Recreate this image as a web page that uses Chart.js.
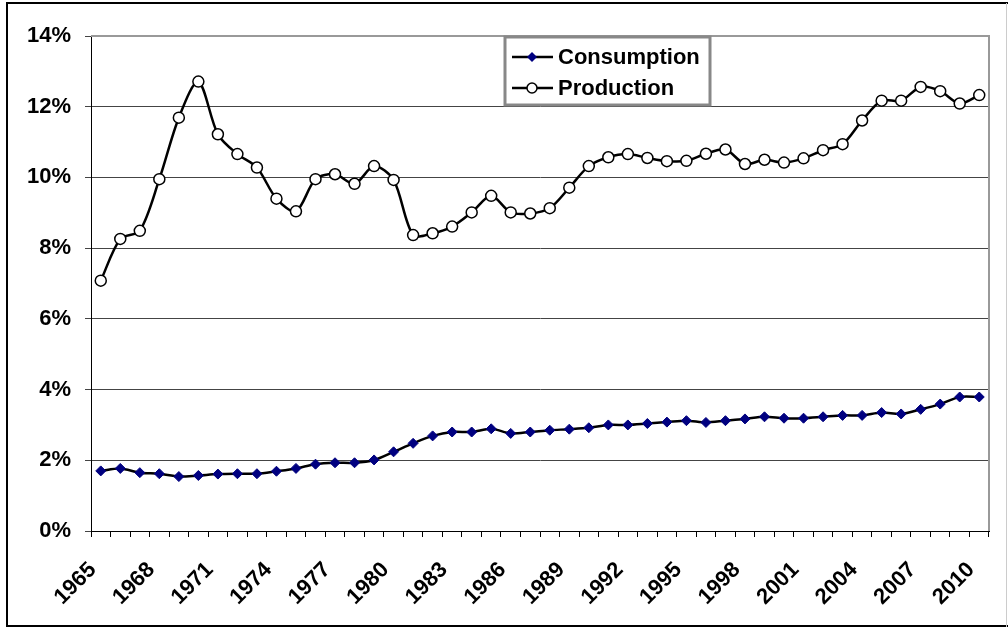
<!DOCTYPE html>
<html>
<head>
<meta charset="utf-8">
<script src="https://cdn.jsdelivr.net/npm/chart.js@4/dist/chart.umd.min.js"></script>
<style>
  html, body { margin: 0; padding: 0; background: #fff; }
  #wrap { position: relative; width: 1008px; height: 628px; }
</style>
</head>
<body>
<div id="wrap"><canvas id="shareChart" width="1008" height="628"></canvas></div>
<script>
// --- DATA ---
const years = [];
for (let y = 1965; y <= 2010; y++) years.push(String(y));

const consumption = [
    1.70, 1.77, 1.65, 1.62, 1.54, 1.57, 1.61, 1.62, 1.62, 1.69,
    1.77, 1.89, 1.93, 1.93, 2.01, 2.24, 2.48, 2.69, 2.80, 2.80,
    2.89, 2.76, 2.80, 2.85, 2.88, 2.92, 3.00, 3.00, 3.04, 3.08,
    3.12, 3.07, 3.12, 3.17, 3.23, 3.19, 3.19, 3.23, 3.27, 3.27,
    3.35, 3.31, 3.44, 3.59, 3.79, 3.79
];

const production = [
    7.08, 8.26, 8.49, 9.95, 11.69, 12.71, 11.22, 10.66, 10.28, 9.40,
    9.04, 9.95, 10.09, 9.82, 10.32, 9.93, 8.37, 8.42, 8.61, 9.01,
    9.48, 9.01, 8.98, 9.13, 9.71, 10.32, 10.57, 10.66, 10.55, 10.46,
    10.47, 10.67, 10.79, 10.38, 10.50, 10.42, 10.54, 10.77, 10.94, 11.61,
    12.17, 12.17, 12.56, 12.44, 12.09, 12.33
];

const seriesNames = ['Consumption', 'Production'];

// --- STYLE ---
const FONT = "'Liberation Sans', Arial, sans-serif";
const NAVY = '#000080';
const GRID = '#444';

// frame, plot border and legend drawn straight on the canvas
const framePlugin = {
    id: 'frame',
    afterDraw(chart) {
        const ctx = chart.ctx;
        const a = chart.chartArea;
        ctx.save();
        // outer chart border
        ctx.strokeStyle = '#000';
        ctx.lineWidth = 2;
        ctx.strokeRect(7, 3, 1010, 623);
        ctx.strokeStyle = '#ccc';
        ctx.lineWidth = 1;
        ctx.beginPath();
        ctx.moveTo(1006.5, 3);
        ctx.lineTo(1006.5, 627);
        ctx.stroke();

        // plot area border (top + right, gray)
        ctx.strokeStyle = '#999';
        ctx.lineWidth = 2;
        ctx.beginPath();
        ctx.moveTo(a.left, a.top);
        ctx.lineTo(a.right, a.top);
        ctx.lineTo(a.right, a.bottom);
        ctx.stroke();

        // legend box
        const bx = 505, by = 37, bw = 205, bh = 68;
        ctx.fillStyle = '#fff';
        ctx.fillRect(bx, by, bw, bh);
        ctx.strokeStyle = '#888';
        ctx.lineWidth = 3;
        ctx.strokeRect(bx, by, bw, bh);

        const rows = [57, 88];
        ctx.font = 'bold 22px ' + FONT;
        ctx.textBaseline = 'middle';
        ctx.textAlign = 'left';
        rows.forEach((ry, i) => {
            ctx.strokeStyle = '#000';
            ctx.lineWidth = 2.5;
            ctx.beginPath();
            ctx.moveTo(512, ry);
            ctx.lineTo(553, ry);
            ctx.stroke();
            if (i === 0) {
                ctx.fillStyle = NAVY;
                ctx.beginPath();
                ctx.moveTo(532, ry - 5);
                ctx.lineTo(537, ry);
                ctx.lineTo(532, ry + 5);
                ctx.lineTo(527, ry);
                ctx.closePath();
                ctx.fill();
            } else {
                ctx.fillStyle = '#fff';
                ctx.strokeStyle = '#000';
                ctx.lineWidth = 1.5;
                ctx.beginPath();
                ctx.arc(532, ry, 5, 0, Math.PI * 2);
                ctx.fill();
                ctx.stroke();
            }
            ctx.fillStyle = '#000';
            ctx.fillText(seriesNames[i], 558, ry + 1);
        });
        ctx.restore();
    }
};

const ctx = document.getElementById('shareChart').getContext('2d');
const shareChart = new Chart(ctx, {
    type: 'line',
    data: {
        labels: years,
        datasets: [
            {
                label: seriesNames[0],
                data: consumption,
                borderColor: '#000',
                borderWidth: 2.5,
                tension: 0.3,
                pointStyle: 'rectRot',
                pointRadius: 5,
                pointBackgroundColor: NAVY,
                pointBorderColor: NAVY,
                pointBorderWidth: 1
            },
            {
                label: seriesNames[1],
                data: production,
                borderColor: '#000',
                borderWidth: 2.5,
                tension: 0.3,
                pointStyle: 'circle',
                pointRadius: 5.5,
                pointBackgroundColor: '#fff',
                pointBorderColor: '#000',
                pointBorderWidth: 1.5
            }
        ]
    },
    options: {
        responsive: false,
        animation: false,
        layout: { padding: { top: 36, right: 19, left: 10, bottom: 5 } },
        scales: {
            x: {
                type: 'category',
                offset: true,
                afterFit(scale) {
                    scale.height = 92;
                    // keep rotated labels from shrinking the plot area
                    scale.paddingLeft = 0;
                    scale.paddingRight = 0;
                },
                grid: {
                    display: true,
                    offset: true,
                    drawOnChartArea: false,
                    drawTicks: true,
                    tickLength: 6,
                    color: '#000'
                },
                border: { display: true, color: '#000', width: 1 },
                ticks: {
                    autoSkip: false,
                    maxRotation: 45,
                    minRotation: 45,
                    padding: 20,
                    labelOffset: -8,
                    color: '#000',
                    font: { family: FONT, size: 22, weight: 'bold' },
                    callback: function (val, idx) {
                        return idx % 3 === 0 ? this.getLabelForValue(val) : '';
                    }
                }
            },
            y: {
                min: 0,
                max: 14,
                afterFit(scale) { scale.width = 81; },
                grid: { color: GRID, tickLength: 6, lineWidth: 1 },
                border: { display: true, color: '#000', width: 1 },
                ticks: {
                    stepSize: 2,
                    padding: 14,
                    color: '#000',
                    font: { family: FONT, size: 22, weight: 'bold' },
                    callback: v => v + '%'
                }
            }
        },
        plugins: {
            legend: { display: false },
            tooltip: { enabled: false }
        }
    },
    plugins: [framePlugin]
});
</script>
</body>
</html>
